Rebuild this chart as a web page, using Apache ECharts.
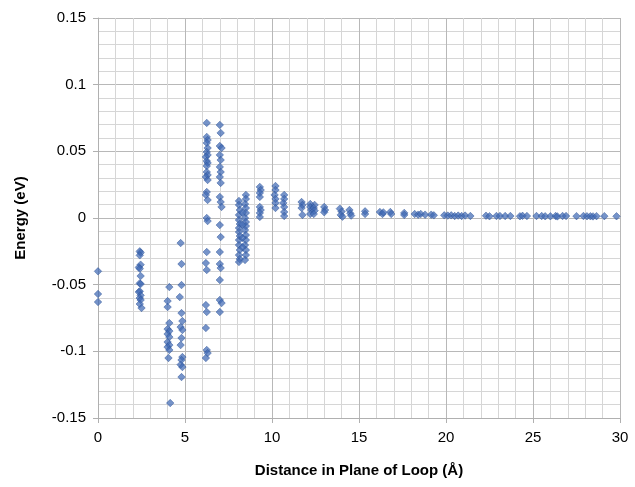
<!DOCTYPE html>
<html>
<head>
<meta charset="utf-8">
<script src="https://cdn.jsdelivr.net/npm/echarts@6/dist/echarts.min.js"></script>
<style>html,body{margin:0;padding:0;background:#fff}#c{width:635px;height:487px}</style>
</head>
<body>
<div id="c"></div>
<script>
const xTicks = [0, 5, 10, 15, 20, 25, 30];
const yTicks = [-0.15, -0.1, -0.05, 0, 0.05, 0.1, 0.15];

const g0 = [[0.0,-0.040],[0.0,-0.057],[0.0,-0.063]];
const g2 = [[2.4,-0.025],[2.45,-0.026],[2.4,-0.028],[2.45,-0.035],[2.35,-0.037],[2.4,-0.038],[2.45,-0.0435],[2.4,-0.049],[2.45,-0.0495],[2.4,-0.055],[2.35,-0.0555],[2.45,-0.058],[2.4,-0.060],[2.45,-0.0615],[2.4,-0.0645],[2.5,-0.0675]];
const g4a = [[4.1,-0.0518],[4.0,-0.0623],[4.0,-0.0668],[4.1,-0.0788],[4.0,-0.0833],[4.1,-0.0848],[4.0,-0.087],[4.1,-0.0893],[4.0,-0.093],[4.1,-0.0953],[4.0,-0.0968],[4.1,-0.099],[4.05,-0.105],[4.15,-0.1388]];
const g4b = [[4.75,-0.0188],[4.8,-0.0345],[4.8,-0.0503],[4.7,-0.0593],[4.8,-0.0713],[4.85,-0.0773],[4.75,-0.0818],[4.85,-0.084],[4.8,-0.090],[4.75,-0.0953],[4.85,-0.1043],[4.8,-0.1065],[4.75,-0.110],[4.85,-0.1118],[4.8,-0.1193]];
const g6 = [[6.25,0.0713],[6.25,0.0608],[6.3,0.0585],[6.25,0.0563],[6.3,0.0525],[6.25,0.0495],[6.3,0.0473],[6.2,0.0458],[6.25,0.0428],[6.3,0.0413],[6.25,0.039],[6.25,0.0345],[6.3,0.0323],[6.2,0.0308],[6.3,0.0285],[6.25,0.0195],[6.2,0.0173],[6.3,0.0135],[6.25,0.0],[6.3,-0.0023],[6.25,-0.0255],[6.2,-0.0338],[6.25,-0.039],[6.2,-0.0653],[6.25,-0.0705],[6.2,-0.0825],[6.25,-0.099],[6.3,-0.1013],[6.2,-0.105]];
const g7 = [[7.0,0.0698],[7.05,0.0638],[7.0,0.054],[7.1,0.0525],[7.0,0.0473],[7.05,0.0435],[7.0,0.0383],[7.05,0.0345],[7.0,0.0308],[7.05,0.0263],[7.0,0.0158],[7.05,0.012],[7.1,0.0083],[7.0,-0.0053],[7.05,-0.0143],[7.0,-0.0255],[7.0,-0.0345],[7.05,-0.0375],[7.0,-0.0465],[7.0,-0.0615],[7.1,-0.0638],[7.0,-0.0705]];
const g8 = [[8.1,0.0128],[8.1,0.0098],[8.15,0.006],[8.1,0.0023],[8.1,-0.0015],[8.15,-0.0045],[8.1,-0.0075],[8.1,-0.0105],[8.15,-0.0135],[8.1,-0.0165],[8.1,-0.0203],[8.15,-0.024],[8.1,-0.0278],[8.15,-0.0308],[8.1,-0.033],[8.5,0.0173],[8.5,0.0143],[8.45,0.0105],[8.5,0.0075],[8.5,0.0038],[8.45,0.0],[8.5,-0.003],[8.5,-0.006],[8.45,-0.009],[8.5,-0.0128],[8.5,-0.0165],[8.45,-0.0203],[8.5,-0.024],[8.5,-0.0278],[8.45,-0.0315],[8.3,-0.005],[8.3,-0.015],[8.3,-0.022],[8.3,0.004]];
const g9 = [[9.3,0.0233],[9.35,0.021],[9.3,0.0188],[9.3,0.0158],[9.3,0.0083],[9.35,0.006],[9.3,0.0038],[9.3,0.0008]];
const g10 = [[10.2,0.024],[10.2,0.021],[10.15,0.0173],[10.2,0.0143],[10.2,0.0113],[10.2,0.0075],[10.7,0.0173],[10.7,0.0143],[10.65,0.0113],[10.7,0.0083],[10.7,0.0045],[10.7,0.0015]];
const g11 = [[11.7,0.012],[11.75,0.0098],[11.7,0.0075],[11.75,0.0023],[12.2,0.0105],[12.2,0.0083],[12.25,0.006],[12.2,0.003],[12.45,0.0098],[12.4,0.0075],[12.45,0.0055],[12.4,0.003]];
const g13 = [[13.0,0.0083],[13.05,0.006],[13.0,0.0043],[13.9,0.007],[14.0,0.0048],[13.95,0.0023],[14.05,0.001],[14.45,0.006],[14.5,0.0035],[14.55,0.0018],[15.35,0.005],[15.35,0.003]];
const g16 = [[16.2,0.0045],[16.35,0.003],[16.4,0.0042],[16.8,0.0045],[16.85,0.003],[17.6,0.0038],[17.6,0.0023],[18.2,0.003],[18.4,0.0025],[18.55,0.003],[18.8,0.0025],[19.15,0.0025],[19.3,0.002],[19.9,0.002],[20.1,0.0018],[20.3,0.002]];
const g20 = [[20.5,0.0015],[20.7,0.0018],[20.9,0.0015],[21.1,0.0018],[21.4,0.0015],[22.3,0.0017],[22.5,0.0013],[22.9,0.0015],[23.1,0.0015],[23.4,0.0015],[23.7,0.0015],[24.25,0.0013],[24.4,0.0016],[24.65,0.0015],[25.2,0.0015],[25.5,0.0015],[25.7,0.0013],[26.0,0.0013],[26.3,0.0015],[26.4,0.0012],[26.7,0.0015],[26.9,0.0015],[27.5,0.0014],[27.9,0.0015],[28.1,0.0013],[28.3,0.0013],[28.45,0.0012],[28.65,0.0014],[29.1,0.0014],[29.8,0.0013]];

const allPoints = [].concat(g0, g2, g4a, g4b, g6, g7, g8, g9, g10, g11, g13, g16, g20);

const chart = echarts.init(document.getElementById('c'), null, {renderer: 'canvas'});
const font = 'Liberation Sans';
chart.setOption({
  animation: false,
  backgroundColor: '#ffffff',
  grid: {left: 98, right: 15, top: 18, bottom: 69, containLabel: false},
  xAxis: {
    type: 'value', min: xTicks[0], max: xTicks[xTicks.length-1], interval: 5,
    name: 'Distance in Plane of Loop (Å)', nameLocation: 'middle', nameGap: 45,
    nameTextStyle: {fontFamily: font, fontSize: 15, fontWeight: 'bold', color: '#000'},
    axisLine: {show: true, onZero: false, lineStyle: {color: '#b0b0b0', width: 1}},
    axisTick: {show: true, length: 5, lineStyle: {color: '#b0b0b0'}},
    axisLabel: {fontFamily: font, fontSize: 15, color: '#000', margin: 12},
    splitLine: {show: true, lineStyle: {color: '#b8b8b8', width: 1}},
    minorTick: {show: false, splitNumber: 5},
    minorSplitLine: {show: true, lineStyle: {color: '#d6d6d6', width: 1}}
  },
  yAxis: {
    type: 'value', min: yTicks[0], max: yTicks[yTicks.length-1], interval: 0.05,
    name: 'Energy (eV)', nameLocation: 'middle', nameGap: 70, nameRotate: 90,
    nameTextStyle: {fontFamily: font, fontSize: 15, fontWeight: 'bold', color: '#000'},
    axisLine: {show: true, onZero: false, lineStyle: {color: '#b0b0b0', width: 1}},
    axisTick: {show: true, length: 5, lineStyle: {color: '#b0b0b0'}},
    axisLabel: {fontFamily: font, fontSize: 15, color: '#000', margin: 12,
      formatter: v => (Math.abs(v) < 1e-9 ? '0' : String(+v.toFixed(2)))},
    splitLine: {show: true, lineStyle: {color: '#b8b8b8', width: 1}},
    minorTick: {show: false, splitNumber: 5},
    minorSplitLine: {show: true, lineStyle: {color: '#d6d6d6', width: 1}}
  },
  series: [{
    type: 'scatter',
    data: allPoints,
    symbol: 'diamond',
    symbolSize: 7.5,
    itemStyle: {color: 'rgba(64,106,180,0.9)', borderColor: '#2f5597', borderWidth: 0.6}
  }]
});
</script>
</body>
</html>
